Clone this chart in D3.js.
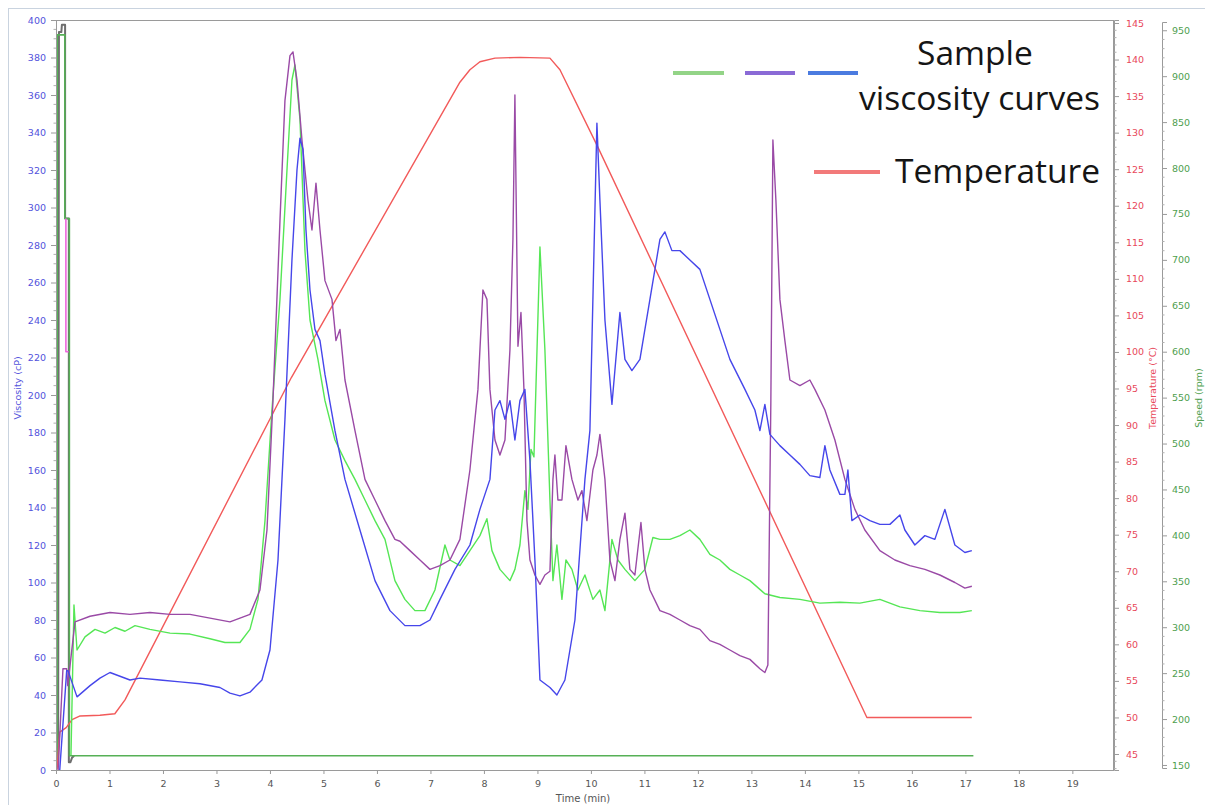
<!DOCTYPE html>
<html><head><meta charset="utf-8">
<script src="https://cdn.jsdelivr.net/npm/d3@7"></script>
<style>body{margin:0;background:#fff}svg{display:block}</style>
</head><body>
<svg id="c" width="1205" height="805"></svg>
<script>
// ---------- data (time in min) ----------
const blueT = [0.07,0.20,0.224,0.393,0.636,0.822,1.009,1.196,1.383,1.570,1.944,2.318,2.692,3.065,3.252,3.439,3.626,3.850,4.0,4.150,4.280,4.411,4.505,4.561,4.617,4.673,4.748,4.841,4.935,5.028,5.215,5.402,5.682,5.963,6.243,6.523,6.804,6.991,7.178,7.458,7.738,7.925,8.112,8.206,8.299,8.393,8.486,8.579,8.673,8.766,8.860,8.953,9.047,9.234,9.364,9.514,9.701,9.888,9.981,10.112,10.168,10.262,10.393,10.542,10.636,10.766,10.916,11.103,11.290,11.383,11.514,11.664,11.850,12.037,12.224,12.411,12.598,12.879,13.065,13.159,13.252,13.346,13.533,13.720,13.907,14.093,14.280,14.374,14.467,14.654,14.748,14.804,14.879,15.028,15.215,15.402,15.589,15.776,15.869,16.056,16.243,16.430,16.617,16.804,16.991,17.121];
const blueV = [0,53,53,39,45,49,52,50,48,49,48,47,46,44,41,39.5,41.5,48,64,112,187,272,320,337,331,288,256,235,229,211,181,155,128,101,85,77,77,80,91,107,120,139,155,192,197,187,197,176,197,203,165,112,48,44,40,48,80,155,181,345,304,240,195,244,219,213,219,251,283,287,277,277,272,267,251,235,219,203,192,181,195,179,173,168,163,157,156,173,160,147,147,160,133,136,133,131,131,136,128,120,125,123,139,120,116,117];

const purpleT = [0.04,0.13,0.20,0.22,0.355,0.636,1.009,1.383,1.757,2.131,2.505,2.879,3.252,3.439,3.626,3.813,3.944,4.056,4.187,4.280,4.374,4.430,4.505,4.598,4.710,4.785,4.860,4.935,5.028,5.159,5.234,5.308,5.402,5.589,5.776,5.963,6.150,6.336,6.430,6.617,6.804,6.991,7.178,7.364,7.551,7.738,7.888,7.981,8.056,8.112,8.206,8.299,8.393,8.486,8.542,8.579,8.636,8.692,8.748,8.804,8.860,8.953,9.047,9.140,9.234,9.290,9.327,9.383,9.458,9.533,9.645,9.757,9.832,9.925,10.037,10.112,10.168,10.262,10.355,10.449,10.542,10.636,10.729,10.822,10.935,11.009,11.103,11.290,11.477,11.664,11.850,12.037,12.224,12.411,12.598,12.785,12.972,13.159,13.252,13.308,13.364,13.402,13.458,13.533,13.626,13.720,13.907,14.093,14.187,14.374,14.561,14.748,14.935,15.121,15.402,15.682,15.963,16.243,16.523,16.804,16.991,17.121];
const purpleV = [0,54,54,45,79,82,84,83,84,83,83,81,79,81,83,96,128,197,293,357,381,383,368,336,304,288,313,288,261,251,229,235,208,181,155,144,133,123,122,117,112,107,109,112,123,160,203,256,251,203,176,168,176,224,283,360,226,244,203,133,112,104,99,104,106,155,168,144,144,173,155,144,149,133,160,168,179,155,112,101,123,137,107,104,132,107,96,85,83,80,77,75,69,67,64,61,59,54,52,56,197,336,304,251,229,208,205,208,203,192,176,155,139,128,117,112,109,107,104,100,97,98];

const greenT = [0.28,0.336,0.393,0.542,0.729,0.916,1.103,1.290,1.477,1.757,2.131,2.505,2.879,3.159,3.439,3.626,3.776,3.907,4.037,4.187,4.318,4.411,4.467,4.561,4.654,4.748,4.897,5.028,5.215,5.402,5.589,5.776,5.963,6.150,6.336,6.523,6.710,6.897,7.084,7.271,7.364,7.551,7.738,7.925,8.056,8.150,8.299,8.486,8.579,8.673,8.766,8.822,8.879,8.935,9.047,9.140,9.234,9.290,9.364,9.458,9.533,9.645,9.757,9.888,10.037,10.168,10.262,10.393,10.505,10.636,10.822,11.009,11.159,11.290,11.477,11.664,11.850,12.037,12.224,12.411,12.598,12.785,12.972,13.252,13.533,13.907,14.280,14.654,15.028,15.402,15.776,16.150,16.523,16.897,17.121];
const greenV = [8,88,64,71,75,73,76,74,77,75,73,72.5,70,68,68,75,91,133,192,251,320,368,376,347,277,240,219,197,176,165,155,144,133,123,101,91,85,85,96,120,112,109,117,125,134,117,107,101,107,120,149,139,171,167,279,224,144,101,120,91,112,107,96,104,91,96,85,123,112,107,101,107,124,123,123,125,128,123,115,112,107,104,101,94,92,91,89,89.5,89,91,87,85,84,84,85];

const tempT = [0.02,0.07,0.19,0.30,0.45,0.82,1.10,1.29,4.40,7.551,7.738,7.925,8.206,8.673,9.234,9.421,10.112,15.159,15.40,17.12];
const tempC = [42.9,48.0,48.6,49.7,50.2,50.3,50.5,52.4,96.5,136.9,138.6,139.7,140.2,140.3,140.2,138.6,128.3,50.0,50.0,50.0];

const speedGrayT = [0.04,0.055,0.10,0.11,0.17,0.17,0.24,0.24,0.27,0.30,0.34];
const speedGrayR = [148,948,948,956,956,745,745,153,153,158,160];
const speedGreenT = [0.02,0.025,0.165,0.165,0.25,0.25,17.15];
const speedGreenR = [148,945,945,745,745,160,160];
const speedPinkT = [0.185,0.185,0.235];
const speedPinkR = [745,600,600];

const xTicks = d3.range(0,20);
const viscTicks = d3.range(0,401,20);
const tempTicks = d3.range(45,146,5);
const speedTicks = d3.range(150,951,50);

// ---------- layout ----------
const svg = d3.select("#c");
const L=56, R=1113, T=20, B=770;
const x = d3.scaleLinear().domain([0,19.76]).range([L,R]);
const yV = d3.scaleLinear().domain([0,400]).range([B,T]);
const yT = d3.scaleLinear().domain([42.81,145.41]).range([B,T]);
const yS = d3.scaleLinear().domain([146.7,959]).range([768,22]);

const font = "DejaVu Sans, Verdana, sans-serif";

// outer light frame
svg.append("line").attr("x1",8).attr("x2",1205).attr("y1",8.5).attr("y2",8.5).attr("stroke","#c9d3df");
svg.append("line").attr("x1",8.5).attr("x2",8.5).attr("y1",8).attr("y2",805).attr("stroke","#c9d3df");

// plot frame
svg.append("rect").attr("x",L+0.5).attr("y",T+0.5).attr("width",R-L).attr("height",B-T)
  .attr("fill","none").attr("stroke","#9a9a9a");

svg.append("clipPath").attr("id","pc").append("rect")
  .attr("x",L).attr("y",T-4).attr("width",R-L).attr("height",B-T+4);

const g = svg.append("g").attr("clip-path","url(#pc)");

function drawLine(ts, vs, yScale, color, w){
  const pts = ts.map((t,i)=>[t,vs[i]]);
  g.append("path").datum(pts)
    .attr("d", d3.line().x(d=>x(d[0])).y(d=>yScale(d[1])))
    .attr("fill","none").attr("stroke",color).attr("stroke-width",w)
    .attr("stroke-linejoin","round");
}

// speed traces
drawLine(speedGrayT, speedGrayR, yS, "#6e6e6e", 2);
drawLine(speedGreenT, speedGreenR, yS, "#56b056", 1.6);
drawLine(speedPinkT, speedPinkR, yS, "#ee66dd", 1.6);

// temperature
drawLine(tempT, tempC, yT, "#f25a5a", 1.4);
// viscosity
drawLine(greenT, greenV, yV, "#55e655", 1.4);
drawLine(purpleT, purpleV, yV, "#9a4aa6", 1.4);
drawLine(blueT, blueV, yV, "#4646ea", 1.4);

// ---------- axes ----------
function styleAxis(sel, color){
  sel.selectAll("path").attr("stroke","#9a9a9a");
  sel.selectAll("line").attr("stroke","#9a9a9a");
  sel.selectAll("text").attr("fill",color).style("font-family",font).style("font-size","9.5px");
}
function minor(axisG, vals, scale, orient, len){
  vals.forEach(v=>{
    const p = scale(v);
    axisG.append("line").attr("x1",0).attr("x2",orient==="left"?-len:len)
      .attr("y1",p).attr("y2",p).attr("stroke","#b0b0b0");
  });
}

const ax = svg.append("g").attr("transform",`translate(0,${B})`)
  .call(d3.axisBottom(x).tickValues(xTicks).tickFormat(d3.format("d")).tickSize(4).tickPadding(6));
styleAxis(ax, "#555");
ax.select(".domain").remove();

const ayV = svg.append("g").attr("transform",`translate(${L},0)`)
  .call(d3.axisLeft(yV).tickValues(viscTicks).tickSize(5).tickPadding(5));
styleAxis(ayV, "#5252dc");
minor(ayV, d3.range(0,401,5).filter(v=>v%20), yV, "left", 2.5);

const ayT = svg.append("g").attr("transform",`translate(1114,0)`)
  .call(d3.axisRight(yT).tickValues(tempTicks).tickSize(5).tickPadding(7));
styleAxis(ayT, "#e8485a");
minor(ayT, d3.range(43,146,1).filter(v=>v%5), yT, "right", 2.5);

const ayS = svg.append("g").attr("transform",`translate(1162,0)`)
  .call(d3.axisRight(yS).tickValues(speedTicks).tickSize(5).tickPadding(5));
styleAxis(ayS, "#4e9e4e");
minor(ayS, d3.range(150,960,10).filter(v=>v%50), yS, "right", 2.5);

// axis titles
svg.append("text").attr("transform","translate(21,388) rotate(-90)").attr("text-anchor","middle")
  .style("font-family",font).style("font-size","9.5px").attr("fill","#5252dc").text("Viscosity (cP)");
svg.append("text").attr("transform","translate(1156,388) rotate(-90)").attr("text-anchor","middle")
  .style("font-family",font).style("font-size","9.5px").attr("fill","#e8485a").text("Temperature (°C)");
svg.append("text").attr("transform","translate(1202,398) rotate(-90)").attr("text-anchor","middle")
  .style("font-family",font).style("font-size","9.5px").attr("fill","#4e9e4e").text("Speed (rpm)");
svg.append("text").attr("x",583).attr("y",802).attr("text-anchor","middle")
  .style("font-family",font).style("font-size","10px").attr("fill","#555").text("Time (min)");

// ---------- legend ----------
const legendSamples = [["#93d487",673,724],["#8a6ad6",745,795],["#4b7be0",808,858]];
legendSamples.forEach(d=>{
  svg.append("line").attr("x1",d[1]).attr("x2",d[2]).attr("y1",73).attr("y2",73)
    .attr("stroke",d[0]).attr("stroke-width",4);
});
svg.append("line").attr("x1",814).attr("x2",880).attr("y1",172).attr("y2",172)
  .attr("stroke","#f27a7a").attr("stroke-width",4);
const lf = "Open Sans, Noto Sans, sans-serif";
svg.append("text").attr("x",975).attr("y",65).attr("text-anchor","middle")
  .style("font-family",lf).style("font-size","33.5px").attr("fill","#151515").text("Sample");
svg.append("text").attr("x",1100).attr("y",110).attr("text-anchor","end")
  .style("font-family",lf).style("font-size","33.5px").attr("fill","#151515").text("viscosity curves");
svg.append("text").attr("x",1100).attr("y",183).attr("text-anchor","end")
  .style("font-family",lf).style("font-size","33.5px").attr("fill","#151515").text("Temperature");
</script>
</body></html>
